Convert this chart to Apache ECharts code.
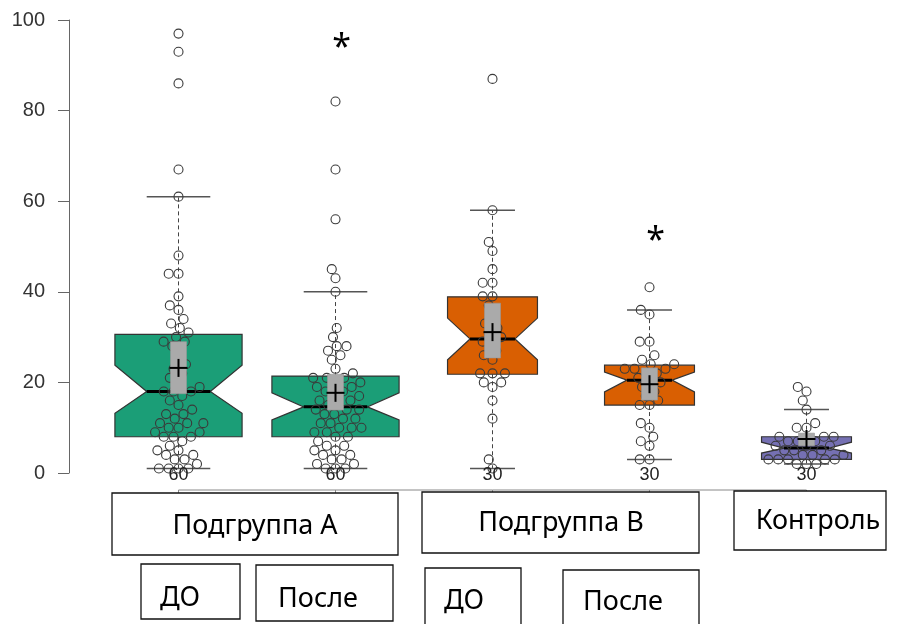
<!DOCTYPE html>
<html><head><meta charset="utf-8">
<script src="https://cdn.jsdelivr.net/npm/echarts@6/dist/echarts.min.js"></script>
<style>html,body{margin:0;padding:0;background:#fff}#c{width:902px;height:624px}</style>
</head><body><div id="c"></div>
<script>
// ---- data ----
const categories = ['Подгруппа А ДО','Подгруппа А После','Подгруппа В ДО','Подгруппа В После','Контроль'];
const groupSizes = [60, 60, 30, 30, 30];
const q1 = [8, 8, 21.8, 15, 3];
const median = [18, 14.6, 29.6, 20.5, 5.5];
const q3 = [30.6, 21.4, 38.9, 23.8, 8];
const notchLow = [13.2, 11.7, 25, 17.9, 4.4];
const notchHigh = [23.8, 17.7, 34.2, 22.3, 6.8];
const whiskerLow = [1, 1, 1, 3, 2];
const whiskerHigh = [61, 40, 58, 36, 14];
const means = [23.2, 17.7, 31.1, 19.6, 7.5];
const meanLow = [17.5, 13.9, 25.4, 16.1, 6];
const meanHigh = [29, 21.8, 37.5, 23.2, 8.8];
const valuesA_before = [1,1,1,1,2,3,3,4,4,5,5,6,7,8,8,8,9,9,10,10,11,11,11,12,13,13,14,15,16,17,18,18,18,19,20,21,22,23,24,25,27,28,29,29,30,31,32,33,34,36,37,39,44,44,48,61,67,86,93,97];
const valuesA_after = [1,1,1,2,2,3,3,4,4,5,5,6,6,7,8,8,9,9,10,10,10,11,11,12,12,13,13,14,14,14,15,15,16,16,17,17,18,18,19,19,20,20,21,21,21,22,23,25,26,27,28,28,30,32,40,43,45,56,67,82];
const valuesB_before = [1,3,12,16,19,20,20,22,22,22,25,26,27,29,29,30,31,32,33,35,37,39,39,42,42,45,49,51,58,87];
const valuesB_after = [3,3,6,7,8,10,11,15,15,16,17,18,19,20,20,21,22,22,23,23,23,24,24,25,26,29,29,35,36,41];
const valuesControl = [2,2,2,3,3,3,3,3,4,4,4,5,5,5,6,6,6,7,7,7,8,8,8,10,10,11,14,16,18,19];
const yMin = 0, yMax = 100, yStep = 20;
const sigGroup = [1, 3];
const sigValue = [95.5, 53];
const sigMark = '*';
const groupLabels = ['Подгруппа А', 'Подгруппа В', 'Контроль'];
const phaseLabels = ['ДО', 'После', 'ДО', 'После'];

// ---- styles / layout ----
const boxColors = ['#1b9e77', '#1b9e77', '#d95f02', '#d95f02', '#7570b3'];
const groupValues = [valuesA_before, valuesA_after, valuesB_before, valuesB_after, valuesControl];
const labelFont = '27px "Noto Sans"';
const labelLayout = [
  {label: () => groupLabels[0], x:112, y:493, w:286, h:62, tx:255, ty:526},
  {label: () => groupLabels[1], x:422, y:492, w:277, h:61, tx:561, ty:523},
  {label: () => groupLabels[2], x:734, y:491, w:152, h:59, tx:818, ty:521},
  {label: () => phaseLabels[0], x:141, y:564, w:99, h:55, tx:180, ty:598},
  {label: () => phaseLabels[1], x:256, y:565, w:137, h:56, tx:318, ty:599},
  {label: () => phaseLabels[2], x:425, y:568, w:96, h:62, tx:464, ty:601},
  {label: () => phaseLabels[3], x:563, y:570, w:136, h:60, tx:623, ty:602}
];

function halfWidth(i, api) {
  const band = api.size([1, 0])[0];
  return band * 0.405 * Math.sqrt(groupSizes[i] / Math.max.apply(null, groupSizes));
}

function renderBox(params, api) {
  const i = params.dataIndex;
  const cx = api.coord([i, 0])[0];
  const hw = halfWidth(i, api);
  const y = v => api.coord([i, v])[1];
  const poly = [
    [cx-hw, y(q1[i])], [cx-hw, y(notchLow[i])], [cx-hw/2, y(median[i])], [cx-hw, y(notchHigh[i])],
    [cx-hw, y(q3[i])], [cx+hw, y(q3[i])], [cx+hw, y(notchHigh[i])], [cx+hw/2, y(median[i])],
    [cx+hw, y(notchLow[i])], [cx+hw, y(q1[i])]
  ];
  return {type: 'group', children: [
    {type:'line', shape:{x1:cx, y1:y(q3[i]), x2:cx, y2:y(whiskerHigh[i])}, style:{stroke:'#444', lineWidth:1, lineDash:[4,3]}},
    {type:'line', shape:{x1:cx, y1:y(q1[i]), x2:cx, y2:y(whiskerLow[i])}, style:{stroke:'#444', lineWidth:1, lineDash:[4,3]}},
    {type:'line', shape:{x1:cx-hw/2, y1:y(whiskerHigh[i]), x2:cx+hw/2, y2:y(whiskerHigh[i])}, style:{stroke:'#555', lineWidth:1.5}},
    {type:'line', shape:{x1:cx-hw/2, y1:y(whiskerLow[i]), x2:cx+hw/2, y2:y(whiskerLow[i])}, style:{stroke:'#555', lineWidth:1.5}},
    {type:'polygon', shape:{points: poly}, style:{fill: boxColors[i], stroke:'#333', lineWidth:1.2}},
    {type:'line', shape:{x1:cx-hw/2, y1:y(median[i]), x2:cx+hw/2, y2:y(median[i])}, style:{stroke:'#000', lineWidth:3}}
  ]};
}

const swarmCache = {};
function swarm(g, api) {
  const key = g + '_' + api.coord([g, 0]).join(',') + '_' + api.coord([g, 100])[1];
  if (swarmCache[key]) return swarmCache[key];
  const arr = groupValues[g];
  const order = arr.map((v, k) => k).sort((a, b) => arr[a] - arr[b]);
  const d = 9.8;
  const placed = [];
  const xs = new Array(arr.length);
  order.forEach(k => {
    const py = api.coord([g, arr[k]])[1];
    const cands = [0];
    placed.forEach(p => {
      const dy = Math.abs(p.y - py);
      if (dy < d) { const dx = Math.sqrt(d*d - dy*dy); cands.push(p.x + dx, p.x - dx); }
    });
    cands.sort((a, b) => Math.abs(a) - Math.abs(b) || a - b);
    let chosen = 0;
    for (const c of cands) {
      if (placed.every(p => (p.x - c) * (p.x - c) + (p.y - py) * (p.y - py) >= d*d - 0.01)) { chosen = c; break; }
    }
    placed.push({x: chosen, y: py});
    xs[k] = chosen;
  });
  swarmCache[key] = xs;
  return xs;
}

const pointData = [];
groupValues.forEach((arr, g) => arr.forEach((v, k) => pointData.push([g, v, k])));

function renderPoint(params, api) {
  const g = api.value(0), v = api.value(1), k = api.value(2);
  const xs = swarm(g, api);
  const c = api.coord([g, v]);
  return {type:'circle', shape:{cx: c[0] + xs[k], cy: c[1], r: 4.5}, style:{fill:'none', stroke:'#3a3a3a', lineWidth:1.1}};
}

function renderMean(params, api) {
  const i = params.dataIndex;
  const c = api.coord([i, means[i]]);
  const yl = api.coord([i, meanLow[i]])[1], yh = api.coord([i, meanHigh[i]])[1];
  return {type:'group', children:[
    {type:'rect', shape:{x:c[0]-8, y:yh, width:16, height:yl-yh}, style:{fill:'#aaaaaa', stroke:'#999', lineWidth:0.6}},
    {type:'line', shape:{x1:c[0]-9, y1:c[1], x2:c[0]+9, y2:c[1]}, style:{stroke:'#000', lineWidth:2}},
    {type:'line', shape:{x1:c[0], y1:c[1]-9, x2:c[0], y2:c[1]+9}, style:{stroke:'#000', lineWidth:2}}
  ]};
}

function renderCount(params, api) {
  const i = params.dataIndex;
  const c = api.coord([i, yMin]);
  const children = [
    {type:'text', style:{text: String(groupSizes[i]), x:c[0], y:c[1]+2, align:'center', verticalAlign:'middle', textAlign:'center', textVerticalAlign:'middle', font:'18px "Liberation Sans"', fill:'#222'}}
  ];
  if (i === 0) {
    const last = api.coord([categories.length - 1, yMin]);
    children.push({type:'line', shape:{x1:c[0], y1:c[1]+17, x2:last[0], y2:c[1]+17}, style:{stroke:'#888', lineWidth:1}});
  }
  children.push({type:'line', shape:{x1:c[0], y1:c[1]+17, x2:c[0], y2:c[1]+24}, style:{stroke:'#888', lineWidth:1}});
  return {type:'group', children};
}

function renderSig(params, api) {
  const c = api.coord([api.value(0), api.value(1)]);
  return {type:'text', style:{text: sigMark, x:c[0]+6, y:c[1]+8, align:'center', verticalAlign:'middle', textAlign:'center', textVerticalAlign:'middle', font:'34px "Noto Sans"', fill:'#000'}};
}

const graphics = [];
labelLayout.forEach(b => {
  graphics.push({type:'rect', shape:{x:b.x, y:b.y, width:b.w, height:b.h}, style:{fill:'#fff', stroke:'#111', lineWidth:1.3}, z:10});
  graphics.push({type:'text', x:b.tx, y:b.ty, style:{text:b.label(), align:'center', verticalAlign:'middle', textAlign:'center', textVerticalAlign:'middle', font:labelFont, fill:'#000'}, z:11});
});

const chart = echarts.init(document.getElementById('c'), null, {renderer:'canvas'});
chart.setOption({
  animation: false,
  backgroundColor: '#fff',
  grid: {left: 100, right: 17, top: 20, bottom: 151, containLabel: false},
  xAxis: {type:'category', data: categories, axisLine:{show:false}, axisTick:{show:false}, axisLabel:{show:false}, splitLine:{show:false}},
  yAxis: {type:'value', min:yMin, max:yMax, interval:yStep, offset:31,
    axisLine:{show:true, lineStyle:{color:'#666', width:1}},
    axisTick:{show:true, length:11, lineStyle:{color:'#666'}},
    axisLabel:{margin:24, fontSize:20, color:'#333', fontFamily:'Liberation Sans'},
    splitLine:{show:false}},
  series: [
    {type:'custom', name:'box', data: categories.map((c, i) => [i, median[i]]), renderItem: renderBox, z:2, silent:true},
    {type:'custom', name:'points', data: pointData, renderItem: renderPoint, z:3, silent:true},
    {type:'custom', name:'mean', data: categories.map((c, i) => [i, means[i]]), renderItem: renderMean, z:4, silent:true},
    {type:'custom', name:'count', data: categories.map((c, i) => [i, yMin]), renderItem: renderCount, z:5, silent:true},
    {type:'custom', name:'sig', data: sigGroup.map((g, k) => [g, sigValue[k]]), renderItem: renderSig, z:5, silent:true}
  ],
  graphic: graphics
});
</script>
</body></html>
